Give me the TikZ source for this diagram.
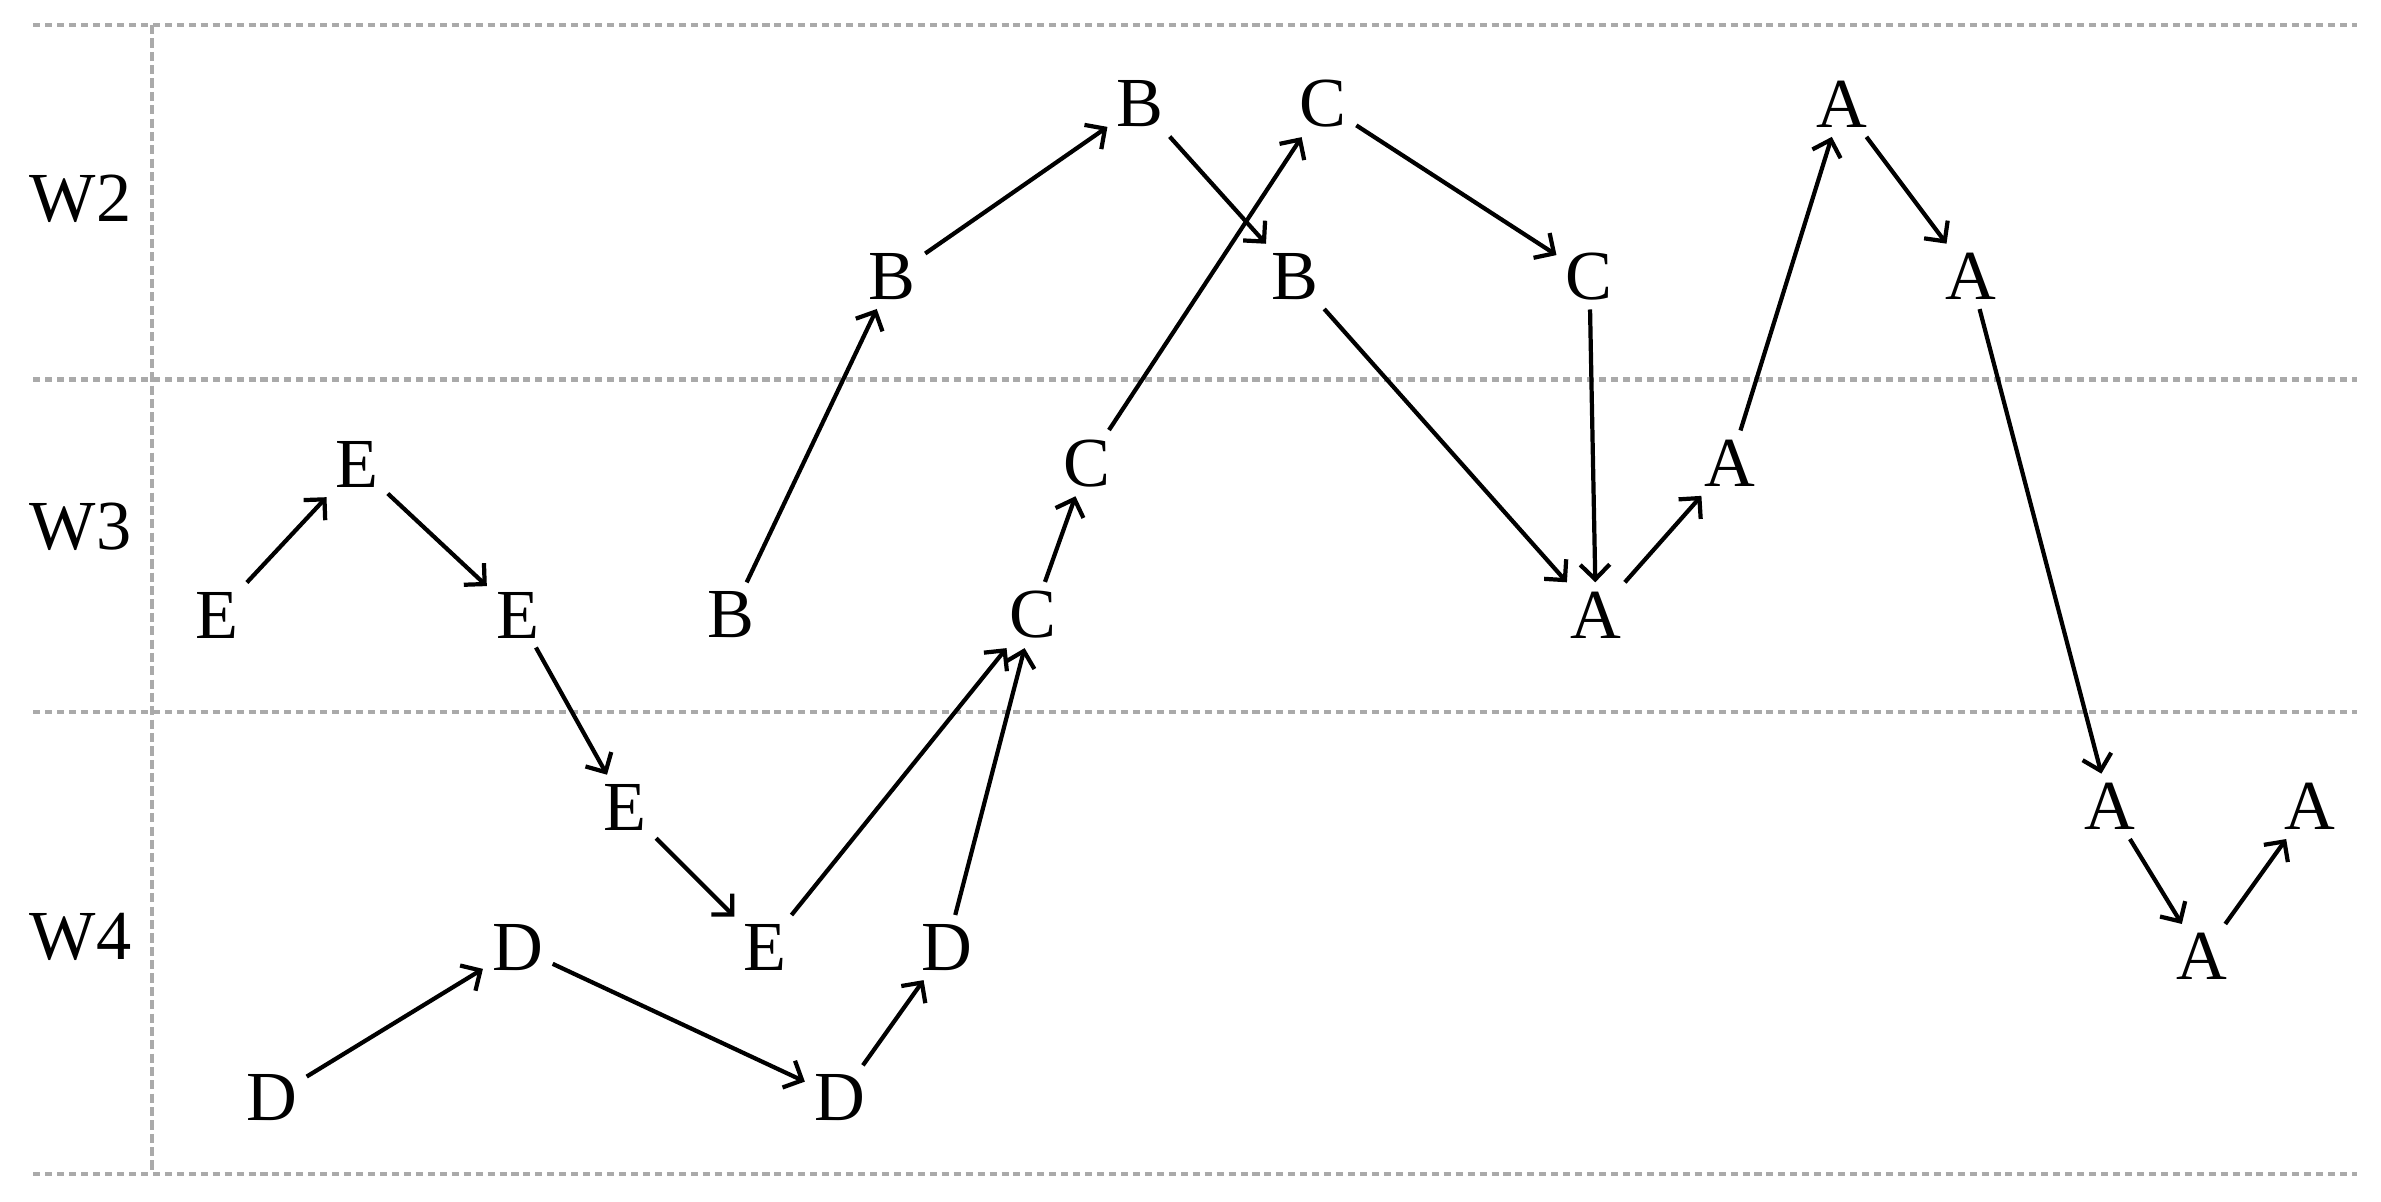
\documentclass[tikz,border=0pt]{standalone}
\usepackage{fontspec}
\setmainfont{Liberation Serif}
\usetikzlibrary{arrows.meta}
\definecolor{gridgray}{RGB}{170,170,170}
\begin{document}
\begin{tikzpicture}[
  x=0.01518cm, y=-0.01518cm,
  letter/.style={inner sep=2.5pt},
  gridline/.style={gridgray, line width=1.3pt, dash pattern=on 2pt off 1.4pt},
  >={Straight Barb[length=4.2pt,width=8.4pt]},
  font=\fontsize{20}{24}\selectfont
]
\useasboundingbox (0,0) rectangle (1568,791);

% grid
\draw[gridline] (22,16.5) -- (1552,16.5);
\draw[gridline] (22,250) -- (1552,250);
\draw[gridline] (22,469) -- (1552,469);
\draw[gridline] (22,773) -- (1552,773);
\draw[gridline, dash pattern=on 2.6pt off 1.2pt] (100,16.5) -- (100,773);

\node (w2) at (53,131) {W2};
\node (w3) at (53,347) {W3};
\node (w4) at (53,617) {W4};

% E and D
\node[letter] (e1) at (142.6,405) {E};
\node[letter] (e2) at (235,306) {E};
\node[letter] (e3) at (341,405) {E};
\node[letter] (e4) at (411.7,531.6) {E};
\node[letter] (e5) at (504,624) {E};
\node[letter] (d1) at (179,723) {D};
\node[letter] (d2) at (341,624) {D};
\node[letter] (d3) at (553,723) {D};
\node[letter] (d4) at (623.5,624) {D};

% B and C
\node[letter] (b1) at (481.5,405) {B};
\node[letter] (b2) at (587.6,182) {B};
\node[letter] (b3) at (751,68.5) {B};
\node[letter] (b4) at (853,182) {B};
\node[letter] (c1) at (680.4,405) {C};
\node[letter] (c2) at (716,305) {C};
\node[letter] (c3) at (871.5,68.5) {C};
\node[letter] (c4) at (1046.7,182) {C};

% A
\node[letter] (a1) at (1051,405) {A};
\node[letter] (a2) at (1139.5,305) {A};
\node[letter] (a3) at (1213,68.6) {A};
\node[letter] (a4) at (1298,182) {A};
\node[letter] (a5) at (1389.5,531) {A};
\node[letter] (a6) at (1450,630) {A};
\node[letter] (a7) at (1521,531) {A};

\draw[->,very thick] (e1) -- (e2);
\draw[->,very thick] (e2) -- (e3);
\draw[->,very thick] (e3) -- (e4);
\draw[->,very thick] (e4) -- (e5);
\draw[->,very thick] (e5) -- (c1);
\draw[->,very thick] (d1) -- (d2);
\draw[->,very thick] (d2) -- (d3);
\draw[->,very thick] (d3) -- (d4);
\draw[->,very thick] (d4) -- (c1);
\draw[->,very thick] (b1) -- (b2);
\draw[->,very thick] (b2) -- (b3);
\draw[->,very thick] (b3) -- (b4);
\draw[->,very thick] (c1) -- (c2);
\draw[->,very thick] (c2) -- (c3);
\draw[->,very thick] (c3) -- (c4);
\draw[->,very thick] (b4) -- (a1);
\draw[->,very thick] (c4) -- (a1);
\draw[->,very thick] (a1) -- (a2);
\draw[->,very thick] (a2) -- (a3);
\draw[->,very thick] (a3) -- (a4);
\draw[->,very thick] (a4) -- (a5);
\draw[->,very thick] (a5) -- (a6);
\draw[->,very thick] (a6) -- (a7);
\end{tikzpicture}
\end{document}
